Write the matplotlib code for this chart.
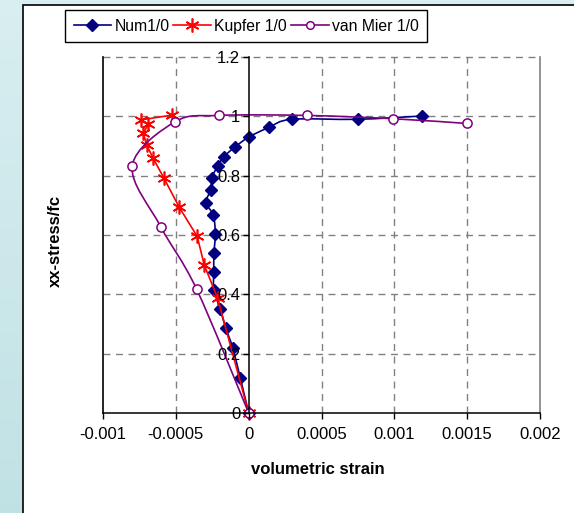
import numpy as np
import matplotlib
matplotlib.use("Agg")
import matplotlib.pyplot as plt
from matplotlib.path import Path
from matplotlib.patches import PathPatch, Rectangle
from matplotlib.lines import Line2D

plt.rcParams['font.family'] = ['Liberation Sans', 'DejaVu Sans']

# ---- data -------------------------------------------------------------
num_strain = [0.0, -0.000058, -0.00011, -0.000158, -0.000195, -0.000238,
              -0.00024, -0.000238, -0.000229, -0.000243, -0.000293,
              -0.000261, -0.000252, -0.000213, -0.00017, -0.000092,
              0.000004, 0.000141, 0.000295, 0.000748, 0.001187]
num_stress = [0.0, 0.119, 0.220, 0.2875, 0.3495, 0.4146, 0.476, 0.540,
              0.603, 0.667, 0.709, 0.752, 0.793, 0.8325, 0.864, 0.8975,
              0.931, 0.963, 0.990, 0.990, 1.001]

kupfer_strain = [0.0, -0.000213, -0.000305, -0.000353, -0.000476, -0.000581,
                 -0.000655, -0.0007, -0.000723, -0.000689, -0.000739,
                 -0.000528]
kupfer_stress = [0.0, 0.387, 0.499, 0.595, 0.693, 0.791, 0.858, 0.903,
                 0.943, 0.974, 0.988, 1.004]

vanmier_strain = [0.0, -0.000357, -0.000604, -0.000799, -0.000504,
                  -0.000204, 0.000398, 0.000988, 0.001496]
vanmier_stress = [0.0, 0.417, 0.628, 0.8335, 0.982, 1.003, 1.003, 0.992,
                  0.976]

series_labels = ['Num1/0', 'Kupfer 1/0', 'van Mier 1/0']
x_ticks = [-0.001, -0.0005, 0.0, 0.0005, 0.001, 0.0015, 0.002]
x_ticklabels = ['-0.001', '-0.0005', '0', '0.0005', '0.001', '0.0015', '0.002']
y_ticks = [0.0, 0.2, 0.4, 0.6, 0.8, 1.0, 1.2]
y_ticklabels = ['0', '0.2', '0.4', '0.6', '0.8', '1', '1.2']

NAVY = '#000080'
RED = '#ff0000'
PURPLE = '#800080'
GRID = '#808080'


def smooth_path(xs, ys):
    """Cubic Bezier path through the points (spreadsheet-style smoothing)."""
    pts = np.column_stack([xs, ys]).astype(float)
    n = len(pts)
    verts = [pts[0]]
    codes = [Path.MOVETO]
    for i in range(n - 1):
        p0 = pts[i - 1] if i > 0 else pts[i]
        p1 = pts[i]
        p2 = pts[i + 1]
        p3 = pts[i + 2] if i + 2 < n else pts[i + 1]
        c1 = p1 + (p2 - p0) / 6.0
        c2 = p2 - (p3 - p1) / 6.0
        verts += [c1, c2, p2]
        codes += [Path.CURVE4] * 3
    return Path(verts, codes)


# ---- figure & background ---------------------------------------------
W, H = 574, 513
fig = plt.figure(figsize=(W / 100, H / 100), dpi=100)

bg = fig.add_axes([0, 0, 1, 1], zorder=-10)
grad = np.linspace(0, 1, 256).reshape(-1, 1)
top = np.array([0.85, 0.935, 0.945])
bot = np.array([0.755, 0.885, 0.895])
img = top[None, None, :] * (1 - grad[..., None]) + bot[None, None, :] * grad[..., None]
bg.imshow(img, aspect='auto', extent=[0, 1, 0, 1], origin='upper')
bg.add_patch(Rectangle((23 / W, -0.01), 1.0, 1 - 5 / H + 0.01,
                       facecolor='white', edgecolor='black', lw=1.2,
                       transform=bg.transAxes))
bg.set_xlim(0, 1)
bg.set_ylim(0, 1)
bg.axis('off')

# ---- plot area --------------------------------------------------------
left, right, top_px, bottom_px = 103, 540, 57, 413
ax = fig.add_axes([left / W, 1 - bottom_px / H, (right - left) / W,
                   (bottom_px - top_px) / H])
ax.set_xlim(-0.001, 0.002)
ax.set_ylim(0, 1.2)
ax.patch.set_alpha(0)

# dashed grid behind the data
for gx in [-0.0005, 0.0005, 0.001, 0.0015]:
    ax.axvline(gx, color=GRID, lw=1, ls=(0, (5, 4)), zorder=0.5)
for gy in [0.2, 0.4, 0.6, 0.8, 1.0, 1.2]:
    ax.axhline(gy, color=GRID, lw=1, ls=(0, (5, 4)), zorder=0.5, clip_on=False)

# plot-area border on the left
ax.axvline(-0.001, color='black', lw=1.2, zorder=0.6, clip_on=False)

ax.spines['top'].set_visible(False)
ax.spines['right'].set_color(GRID)
ax.spines['right'].set_linewidth(1.2)
ax.spines['left'].set_position(('data', 0))
ax.spines['left'].set_linewidth(1.1)
ax.spines['bottom'].set_linewidth(1.1)

ax.set_xticks(x_ticks)
ax.set_xticklabels(x_ticklabels)
ax.set_yticks(y_ticks)
ax.set_yticklabels(y_ticklabels)
ax.tick_params(axis='x', direction='out', length=4, width=1, pad=6,
               labelsize=12)
ax.tick_params(axis='y', direction='out', length=4, width=1, pad=2,
               labelsize=12)
ax.set_axisbelow(False)

# ---- series -----------------------------------------------------------
lw = 1.2
# Num1/0 : smoothed line, filled diamonds
ax.add_patch(PathPatch(smooth_path(num_strain, num_stress), fill=False,
                       edgecolor=NAVY, lw=lw, zorder=2))
ax.plot(num_strain, num_stress, ls='none', marker='D', ms=6.6,
        color=NAVY, mec=NAVY, zorder=2.1, clip_on=False)

# Kupfer 1/0 : straight segments, star markers
ax.plot(kupfer_strain, kupfer_stress, color=RED, lw=lw, marker=(6, 2, 0),
        ms=10, mew=1.2, mec=RED, zorder=2.2, clip_on=False)

# van Mier 1/0 : smoothed line, open circles
ax.add_patch(PathPatch(smooth_path(vanmier_strain, vanmier_stress),
                       fill=False, edgecolor=PURPLE, lw=lw, zorder=2.3))
ax.plot(vanmier_strain, vanmier_stress, ls='none', marker='o', ms=6.6,
        mfc='white', mec=PURPLE, mew=1.1, zorder=2.4, clip_on=False)

# ---- axis titles ------------------------------------------------------
fig.text(318 / W, 1 - 470 / H, 'volumetric strain', ha='center',
         va='center', fontsize=12, fontweight='bold')
fig.text(55 / W, 1 - 241 / H, 'xx-stress/fc', ha='center', va='center',
         rotation=90, fontsize=12, fontweight='bold')

# ---- legend -----------------------------------------------------------
handles = [
    Line2D([], [], color=NAVY, lw=lw, marker='D', ms=6.6, mec=NAVY),
    Line2D([], [], color=RED, lw=lw, marker=(6, 2, 0), ms=10, mew=1.2,
           mec=RED),
    Line2D([], [], color=PURPLE, lw=lw, marker='o', ms=5.5, mfc='white',
           mec=PURPLE, mew=1.1),
]
leg = fig.legend(handles, series_labels, loc='upper left',
                 bbox_to_anchor=(65 / W, 1 - 10 / H), ncol=3,
                 fontsize=11.3, frameon=True, fancybox=False,
                 edgecolor='black', framealpha=1, borderpad=0.55,
                 handlelength=2.4, handletextpad=0.2, columnspacing=0.25,
                 borderaxespad=0)
leg.get_frame().set_linewidth(1.0)

fig.savefig('out.png', dpi=100)
